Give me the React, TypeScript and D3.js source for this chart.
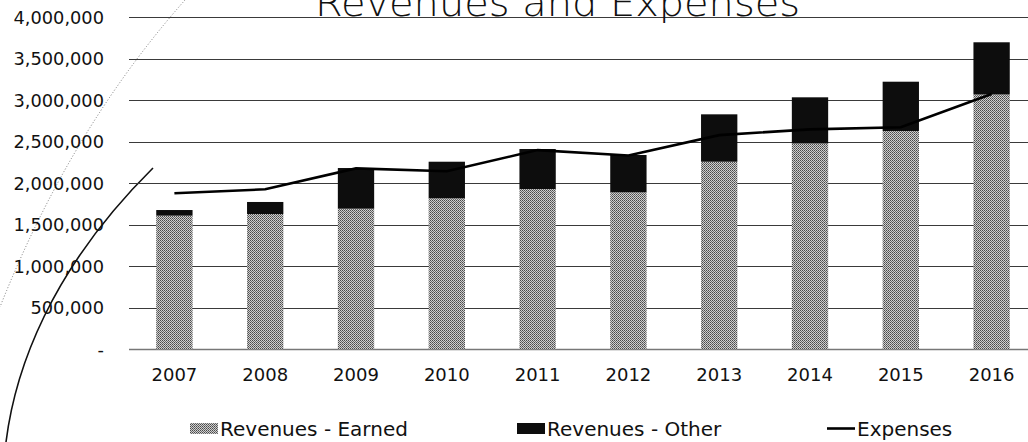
import * as d3 from "d3";
import { useRef, useEffect } from "react";

const years = ["2007", "2008", "2009", "2010", "2011", "2012", "2013", "2014", "2015", "2016"];
const revenuesEarned = [1610000, 1630000, 1694000, 1819000, 1931000, 1891000, 2260000, 2480000, 2630000, 3070000];
const revenuesOther = [68000, 145000, 490000, 441000, 482000, 450000, 571000, 556000, 594000, 629000];
const expenses = [1880000, 1928000, 2180000, 2145000, 2400000, 2335000, 2580000, 2650000, 2675000, 3075000];
const yTicks = [0, 500000, 1000000, 1500000, 2000000, 2500000, 3000000, 3500000, 4000000];
const legendLabels = ["Revenues - Earned", "Revenues - Other", "Expenses"];

const width = 1028;
const height = 442;
const font = "'DejaVu Sans', 'Liberation Sans', sans-serif";

export default function App() {
  const chartRef = useRef<SVGSVGElement>(null);

  useEffect(() => {
    const svg = d3.select(chartRef.current);
    svg.selectAll("*").remove();

    const margin = { left: 129, right: -9, top: 17.3, bottom: 92.7 };

    const rows = years.map((year, i) => ({
      year,
      earned: revenuesEarned[i],
      other: revenuesOther[i],
      expenses: expenses[i],
    }));

    const series = d3.stack<any>().keys(["earned", "other"])(rows);

    const x = d3
      .scaleBand()
      .domain(years)
      .range([margin.left, width - margin.right])
      .paddingInner(0.6)
      .paddingOuter(0.3);

    const y = d3
      .scaleLinear()
      .domain([0, 4000000])
      .range([height - margin.bottom, margin.top]);

    // halftone fill, like the scanned grey
    const defs = svg.append("defs");
    const dots = defs
      .append("pattern")
      .attr("id", "earned-fill")
      .attr("width", 2)
      .attr("height", 2)
      .attr("patternUnits", "userSpaceOnUse");
    dots.append("rect").attr("width", 2).attr("height", 2).attr("fill", "#cfcfcf");
    dots.append("rect").attr("width", 1).attr("height", 1).attr("fill", "#4a4a4a");
    dots.append("rect").attr("x", 1).attr("y", 1).attr("width", 1).attr("height", 1).attr("fill", "#6a6a6a");

    // scan marks on the left edge of the page
    svg
      .append("path")
      .attr("d", "M185,0 Q70,130 0,307")
      .attr("fill", "none")
      .attr("stroke", "#777")
      .attr("stroke-width", 1)
      .attr("stroke-dasharray", "1 2");
    svg
      .append("path")
      .attr("d", "M6,442 C15,370 50,270 153,168")
      .attr("fill", "none")
      .attr("stroke", "#111")
      .attr("stroke-width", 1.6);

    // Grid
    svg
      .append("g")
      .selectAll("line")
      .data(yTicks)
      .join("line")
      .attr("x1", margin.left)
      .attr("x2", width)
      .attr("y1", (d) => Math.round(y(d)) + 0.5)
      .attr("y2", (d) => Math.round(y(d)) + 0.5)
      .attr("stroke", (d) => (d === 0 ? "#777" : "#3a3a3a"))
      .attr("stroke-width", (d) => (d === 0 ? 1.5 : 1));

    // Y labels
    svg
      .append("g")
      .selectAll("text")
      .data(yTicks)
      .join("text")
      .attr("x", 104)
      .attr("y", (d) => y(d))
      .attr("dy", "0.36em")
      .attr("text-anchor", "end")
      .attr("font-family", font)
      .attr("font-size", 17.8)
      .attr("fill", "#111")
      .text((d) => (d === 0 ? "-" : d3.format(",")(d)));

    // Bars
    const g = svg
      .selectAll("g.layer")
      .data(series)
      .join("g")
      .attr("class", "layer")
      .attr("fill", (d, i) => (i === 0 ? "url(#earned-fill)" : "#0d0d0d"));

    g.selectAll("rect")
      .data((d) => d)
      .join("rect")
      .attr("x", (d: any) => x(d.data.year) as number)
      .attr("y", (d) => y(d[1]))
      .attr("width", x.bandwidth())
      .attr("height", (d) => y(d[0]) - y(d[1]));

    // Expenses line
    const line = d3
      .line<any>()
      .x((d) => (x(d.year) as number) + x.bandwidth() / 2)
      .y((d) => y(d.expenses));

    svg
      .append("path")
      .datum(rows)
      .attr("d", line)
      .attr("fill", "none")
      .attr("stroke", "#000")
      .attr("stroke-width", 2.6);

    // X labels
    svg
      .append("g")
      .selectAll("text")
      .data(years)
      .join("text")
      .attr("x", (d) => (x(d) as number) + x.bandwidth() / 2)
      .attr("y", 381)
      .attr("text-anchor", "middle")
      .attr("font-family", font)
      .attr("font-size", 18)
      .attr("fill", "#111")
      .text((d) => d);

    // Title (cut off at the top, as in the scan)
    svg
      .append("text")
      .attr("x", 315)
      .attr("y", 16)
      .attr("textLength", 485)
      .attr("lengthAdjust", "spacingAndGlyphs")
      .attr("font-family", font)
      .attr("font-weight", 200)
      .attr("font-size", 38)
      .attr("fill", "#111")
      .text("Revenues and Expenses");

    // Legend
    const legendX = [190, 517, 827];
    const legend = svg
      .append("g")
      .selectAll("g")
      .data(legendLabels)
      .join("g")
      .attr("transform", (d, i) => `translate(${legendX[i]},436)`);

    legend
      .filter((d, i) => i < 2)
      .append("rect")
      .attr("y", -13)
      .attr("width", 28)
      .attr("height", 11)
      .attr("fill", (d, i) => (i === 0 ? "url(#earned-fill)" : "#0d0d0d"));

    legend
      .filter((d, i) => i === 2)
      .append("line")
      .attr("x1", 0)
      .attr("x2", 28)
      .attr("y1", -7.5)
      .attr("y2", -7.5)
      .attr("stroke", "#000")
      .attr("stroke-width", 2.6);

    legend
      .append("text")
      .attr("x", 30)
      .attr("font-family", font)
      .attr("font-size", 20)
      .attr("fill", "#111")
      .text((d) => d);
  }, []);

  return (
    <svg
      ref={chartRef}
      width={width}
      height={height}
      viewBox={`0 0 ${width} ${height}`}
      style={{ position: "absolute", left: 0, top: 0, background: "#fff" }}
    >
      <title>Revenues and Expenses</title>
    </svg>
  );
}
